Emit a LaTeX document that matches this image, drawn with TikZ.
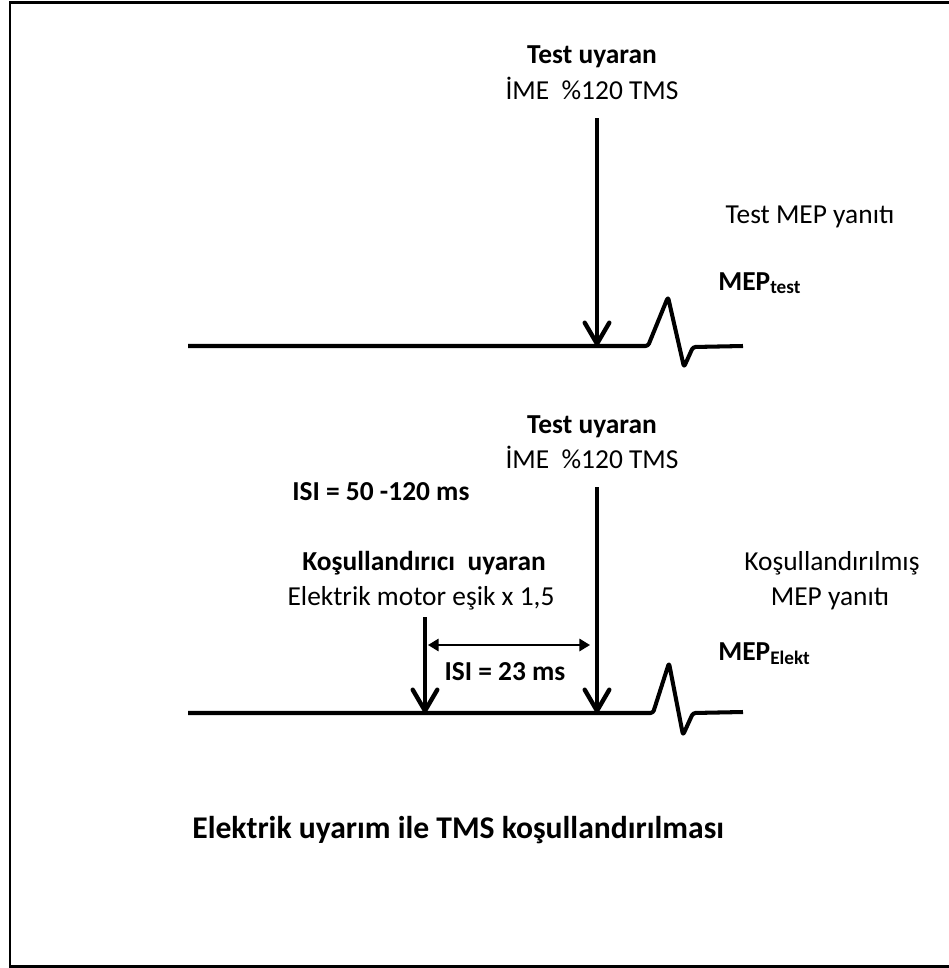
\documentclass[tikz,border=0pt]{standalone}
\usepackage{fontspec}
\setmainfont{Carlito}
\usetikzlibrary{arrows.meta}

\begin{document}
\begin{tikzpicture}[x=0.02cm,y=-0.02cm,
  txt/.style={font=\fontsize{15.6}{18}\selectfont,anchor=base,inner sep=0pt},
  btxt/.style={txt,font=\fontsize{15.6}{18}\selectfont\bfseries},
  trace/.style={line width=2.3pt,line join=round},
  stim/.style={line width=2.5pt,-{Straight Barb[length=12pt,width=14pt,round]}},
  isi/.style={line width=1.1pt,{Triangle[length=6pt,width=7pt]}-{Triangle[length=6pt,width=7pt]}}]
  \useasboundingbox (0,0) rectangle (949,968);
  \draw[line width=1.7pt] (10,2) rectangle (962,966);
  % test stimulus alone
  \node[btxt] (tu1) at (592,63) {Test uyaran};
  \node[txt] (ime1) at (592,99) {İME\ \ \%120 TMS};
  \node[txt] (resp1) at (810,223) {Test MEP yanıtı};
  \node[btxt,anchor=base west] (mep1) at (718,290) {MEP\textsubscript{test}};
  \coordinate (s1top) at (597,118);
  \coordinate (s1) at (597,346);
  \draw[trace,rounded corners=1.5pt] (188,346) -- (648,346) -- (668,297) -- (684,367) -- (693,347) -- (743,346);
  \draw[stim] (s1top) -- (s1);
  % conditioned by electric stimulus
  \node[btxt] (tu2) at (592,433) {Test uyaran};
  \node[txt] (ime2) at (592,468) {İME\ \ \%120 TMS};
  \node[btxt,anchor=base west] (isilong) at (292,500) {ISI = 50 -120 ms};
  \node[btxt] (kos) at (424,570) {Koşullandırıcı\ \ uyaran};
  \node[txt] (elek) at (421,605) {Elektrik motor eşik x 1,5};
  \node[txt] (resp2) at (832,570) {Koşullandırılmış};
  \node[txt] (resp2b) at (830,605) {MEP yanıtı};
  \node[btxt,anchor=base west] (mep2) at (718,660) {MEP\textsubscript{Elekt}};
  \node[btxt] (isishort) at (505,680) {ISI = 23 ms};
  \coordinate (s2top) at (597,487);
  \coordinate (s2) at (597,713);
  \coordinate (ctop) at (425,617);
  \coordinate (c) at (425,713);
  \coordinate (isiL) at (428,645);
  \coordinate (isiR) at (590,645);
  \draw[trace,rounded corners=1.5pt] (188,713) -- (653,713) -- (669,663) -- (683,735) -- (693,713) -- (743,712);
  \draw[stim] (s2top) -- (s2);
  \draw[stim] (ctop) -- (c);
  \draw[isi] (isiL) -- (isiR);
  \node[btxt,anchor=base west,font=\fontsize{18}{21}\selectfont\bfseries] (title) at (192,838) {Elektrik uyarım ile TMS koşullandırılması};
\end{tikzpicture}
\end{document}
